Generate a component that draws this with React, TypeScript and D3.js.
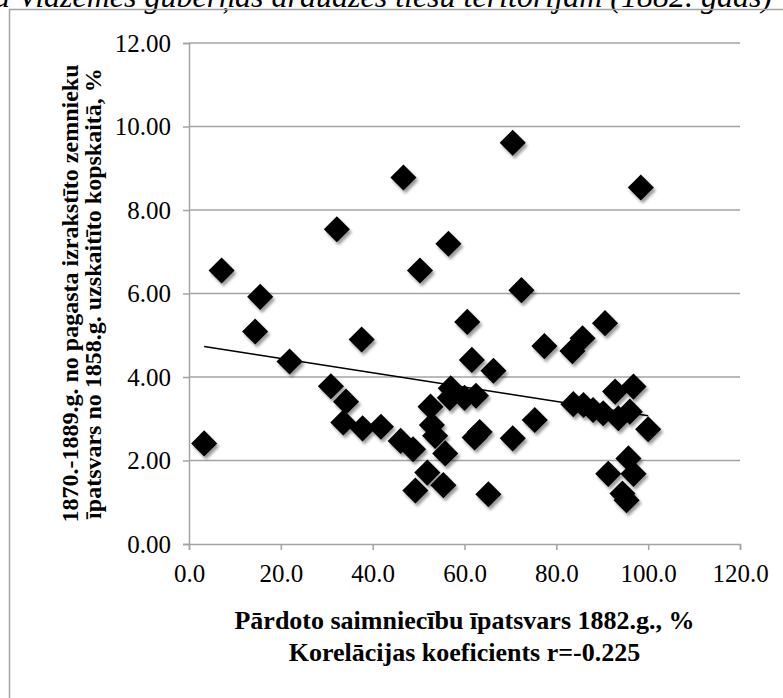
import { useEffect, useRef } from 'react';
import * as d3 from 'd3';

// pārdoto saimniecību īpatsvars 1882.g., %
const soldShare = [
  3.3, 7.1, 14.4, 15.5, 21.9, 30.9, 32.2, 33.6, 34.2, 37.6, 37.8, 41.8, 46.1, 46.7,
  48.8, 49.3, 50.3, 51.9, 52.6, 52.9, 53.6, 55.4, 55.8, 56.5, 57.0, 56.8, 60.0, 60.6,
  61.6, 62.5, 62.2, 63.3, 65.2, 66.3, 70.5, 70.5, 72.4, 75.3, 77.4, 83.5, 85.7, 83.7,
  85.9, 88.0, 90.2, 90.6, 91.3, 92.8, 93.5, 94.4, 95.3, 95.7, 96.0, 96.8, 96.8, 98.4,
  100.0,
];
// izrakstīto zemnieku īpatsvars, %
const emigrantShare = [
  2.41, 6.55, 5.09, 5.92, 4.37, 3.78, 7.54, 2.91, 3.41, 4.90, 2.77, 2.81, 2.47, 8.78,
  2.27, 1.28, 6.55, 1.71, 3.29, 2.85, 2.59, 1.41, 2.17, 7.19, 3.73, 3.50, 3.50, 5.32,
  4.41, 3.55, 2.55, 2.68, 1.19, 4.15, 9.61, 2.53, 6.08, 2.97, 4.74, 4.62, 4.93, 3.35,
  3.33, 3.21, 3.13, 5.29, 1.68, 3.65, 3.01, 1.21, 1.05, 2.05, 3.17, 3.77, 1.68, 8.54,
  2.75,
];

// linear trend line as drawn in the chart
const trendIntercept = 4.79;
const trendSlope = -0.0172;

const xTicks = [0, 20, 40, 60, 80, 100, 120];
const yTicks = [0, 2, 4, 6, 8, 10, 12];

const titleText = 'a Vidzemes guberņas draudzes tiesu teritorijām (1882. gads)';
const xTitle = ['Pārdoto saimniecību īpatsvars 1882.g., %', 'Korelācijas koeficients r=-0.225'];
const yTitle = ['1870.-1889.g. no pagasta izrakstīto zemnieku', 'īpatsvars no 1858.g. uzskaitīto kopskaitā, %'];

const width = 783;
const height = 698;

export default function App() {
  const svgRef = useRef<SVGSVGElement>(null);

  useEffect(() => {
    if (!svgRef.current) return;
    const svg = d3.select(svgRef.current);
    svg.selectAll('*').remove();

    const left = 189, right = 740, top = 43, bottom = 544;
    const grey = '#a3a3a3';
    const serif = "'Liberation Serif', 'Times New Roman', 'DejaVu Serif', serif";

    const x = d3.scaleLinear().domain([0, 120]).range([left, right]);
    const y = d3.scaleLinear().domain([0, 12]).range([bottom, top]);

    const defs = svg.append('defs');
    const f = defs.append('filter').attr('id', 'shadow')
      .attr('x', '-50%').attr('y', '-50%').attr('width', '200%').attr('height', '200%');
    f.append('feDropShadow')
      .attr('dx', 2).attr('dy', 3).attr('stdDeviation', 1.8)
      .attr('flood-color', '#000').attr('flood-opacity', 0.4);

    // title, cut off at the top of the picture
    svg.append('text')
      .attr('x', 772).attr('y', 7)
      .attr('text-anchor', 'end')
      .style('font-family', serif)
      .style('font-style', 'italic')
      .style('font-size', '32px')
      .text(titleText);

    // chart frame (runs past the right edge)
    svg.append('rect')
      .attr('x', 9.5).attr('y', 9.5)
      .attr('width', 800).attr('height', 720)
      .attr('fill', 'none')
      .attr('stroke', grey).attr('stroke-width', 1.5);

    // grid lines
    svg.append('g')
      .selectAll('line')
      .data(yTicks.filter(d => d > 0))
      .enter()
      .append('line')
      .attr('x1', left).attr('x2', right)
      .attr('y1', d => y(d)).attr('y2', d => y(d))
      .attr('stroke', grey).attr('stroke-width', 1.5);

    // y axis
    const yAxis = d3.axisLeft(y).tickValues(yTicks).tickSize(6).tickPadding(12)
      .tickFormat(d => d3.format('.2f')(d as number));
    const gy = svg.append('g').attr('transform', `translate(${left},0)`).call(yAxis);
    gy.select('.domain').attr('stroke', grey).attr('stroke-width', 1.5);
    gy.selectAll('.tick line').attr('stroke', grey).attr('stroke-width', 1.5);
    gy.selectAll('.tick text').attr('fill', '#000')
      .style('font-family', serif).style('font-size', '25px');

    // x axis
    const xAxis = d3.axisBottom(x).tickValues(xTicks).tickSize(6).tickPadding(14)
      .tickFormat(d => d3.format('.1f')(d as number));
    const gx = svg.append('g').attr('transform', `translate(0,${bottom})`).call(xAxis);
    gx.select('.domain').attr('stroke', grey).attr('stroke-width', 1.5);
    gx.selectAll('.tick line').attr('stroke', grey).attr('stroke-width', 1.5);
    gx.selectAll('.tick text').attr('fill', '#000')
      .style('font-family', serif).style('font-size', '25px');

    // axis titles
    svg.append('g')
      .selectAll('text')
      .data(xTitle)
      .enter()
      .append('text')
      .attr('x', (left + right) / 2)
      .attr('y', (_, i) => 629 + i * 32)
      .attr('text-anchor', 'middle')
      .style('font-family', serif).style('font-weight', 'bold').style('font-size', '26px')
      .text(d => d);

    svg.append('g')
      .selectAll('text')
      .data(yTitle)
      .enter()
      .append('text')
      .attr('transform', (_, i) => `translate(${78 + i * 23},${(top + bottom) / 2}) rotate(-90)`)
      .attr('text-anchor', 'middle')
      .style('font-family', serif).style('font-weight', 'bold').style('font-size', '24px')
      .text(d => d);

    // points
    const points = soldShare.map((v, i) => [v, emigrantShare[i]] as [number, number]);
    const diamond = d3.symbol().type(d3.symbolSquare).size(340);
    svg.append('g')
      .attr('filter', 'url(#shadow)')
      .selectAll('path')
      .data(points)
      .enter()
      .append('path')
      .attr('d', diamond)
      .attr('transform', d => `translate(${x(d[0])},${y(d[1])}) rotate(45)`)
      .attr('fill', '#000');

    // trend line over the data range
    const [x0, x1] = d3.extent(soldShare) as [number, number];
    const line = d3.line<number>().x(d => x(d)).y(d => y(trendIntercept + trendSlope * d));
    svg.append('path')
      .datum([x0, x1])
      .attr('d', line)
      .attr('fill', 'none')
      .attr('stroke', '#000')
      .attr('stroke-width', 1.5);
  }, []);

  return (
    <div style={{ position: 'absolute', left: 0, top: 0 }}>
      <svg ref={svgRef} width={width} height={height}></svg>
    </div>
  );
}
